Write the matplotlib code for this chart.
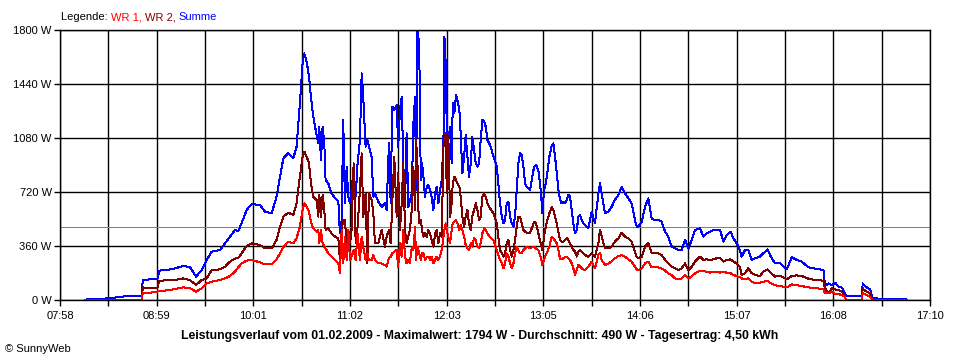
import matplotlib
matplotlib.use('Agg')
import matplotlib.pyplot as plt
import numpy as np

plt.rcParams['font.family'] = ['Liberation Sans', 'DejaVu Sans']

# sample times in minutes since midnight, power in W
minutes = [
    # 08:14 - 09:46
    493.9, 494.9, 504.4, 509.7, 516.1, 526.6, 529.8, 530.5, 535.1, 539.8,
    541.0, 545.7, 551.0, 556.3, 560.5, 564.3, 567.9, 571.1, 574.2, 579.5,
    582.7, 585.9,
    # 09:49 - 11:40
    589.0, 591.1, 593.2, 596.4, 599.6, 604.9, 608.0, 612.3, 615.4, 617.6,
    619.7, 622.8, 626.0, 628.1, 630.2, 631.9, 633.0, 634.5, 636.0, 637.2,
    638.7, 640.8, 641.9, 642.5, 643.6, 644.6, 645.7, 646.5, 648.2, 650.3,
    652.5, 654.6, 655.6, 656.7, 657.7, 658.8, 659.9, 660.9, 662.0, 663.0,
    664.3, 665.6, 666.8, 668.3, 669.4, 670.4, 671.9, 673.0, 674.0, 675.7,
    676.8, 677.8, 679.9, 682.1, 684.2, 685.2, 686.7, 687.8, 688.8, 690.1,
    691.6, 692.6, 693.7, 694.8, 695.8, 696.9, 697.9, 699.0, 700.0,
    # 11:41 - 13:31
    701.2, 702.2, 703.3, 703.9, 704.8, 705.4, 706.0, 706.9, 707.7, 708.6,
    709.6, 710.7, 711.7, 712.8, 713.8, 714.9, 716.0, 717.0, 718.1, 719.1,
    720.2, 721.3, 721.9, 722.7, 723.4, 724.4, 725.5, 726.5, 727.2, 728.2,
    729.3, 730.1, 731.4, 732.2, 733.3, 734.4, 735.4, 736.5, 737.5, 738.6,
    739.6, 740.7, 741.8, 742.8, 743.9, 744.9, 746.0, 747.1, 748.1, 749.2,
    750.9, 753.0, 755.1, 756.1, 757.2, 758.3, 759.3, 760.4, 761.4, 762.5,
    763.6, 764.6, 765.7, 766.7, 767.8, 768.8, 769.9, 771.0, 772.0, 773.1,
    774.1, 776.2, 777.3, 778.8, 780.0, 781.5, 783.0, 784.1, 785.1, 786.2,
    787.2, 788.5, 790.0, 791.0, 792.1, 793.2, 794.2, 795.3, 796.3, 797.4,
    798.4, 799.5, 800.6, 801.6, 802.7, 803.7, 804.8, 805.9, 806.9, 808.0,
    809.0, 810.1, 811.1,
    # 13:33 - 15:22
    813.2, 815.3, 817.4, 819.6, 820.6, 821.7, 823.8, 825.9, 828.0, 830.1,
    832.3, 834.4, 836.5, 838.6, 840.7, 842.8, 843.9, 845.0, 847.1, 849.2,
    851.3, 853.4, 855.5, 857.6, 859.7, 861.9, 864.0, 866.1, 868.2, 870.3,
    872.4, 874.6, 876.7, 878.8, 880.9, 884.1, 886.2, 888.3, 890.4, 892.5,
    894.6, 896.8, 898.9, 901.0, 903.5, 905.2, 907.3, 909.4, 910.5, 912.6,
    914.7, 916.9, 919.0, 922.1,
    # 15:24 - 16:55
    924.3, 926.9, 929.0, 931.7, 934.9, 939.1, 942.3, 945.5, 948.6, 952.9,
    957.1, 962.4, 962.8, 964.1, 965.6, 967.7, 969.8, 971.9, 974.0, 976.1,
    976.6, 977.0, 981.4, 986.7, 987.3, 988.2, 989.9, 992.0, 992.8, 993.3,
    1000.5, 1008.9, 1014.6, 1015.3,
]

summe = [
    0, 4, 9, 11, 22, 29, 29, 133, 138, 140,
    196, 200, 211, 227, 218, 156, 200, 267, 322, 333,
    378, 422,
    467, 460, 511, 600, 640, 633, 589, 578, 689, 822,
    944, 978, 944, 1022, 1311, 1578, 1644, 1589, 1489, 1356,
    1222, 1100, 1044, 1156, 933, 1156, 1044, 800, 778, 711,
    678, 656, 444, 533, 1200, 644, 889, 689, 644, 733,
    867, 689, 911, 1067, 1511, 1356, 1022, 1067, 1022, 956,
    689, 711, 656, 622, 644, 600, 1044, 644, 1289, 1267,
    1300, 1022, 1267, 1356, 911, 622, 1111, 622, 656,
    711, 1178, 1356, 733, 1794, 1756, 1622, 800, 911, 822,
    689, 756, 767, 733, 689, 600, 711, 756, 644, 733,
    800, 1067, 1756, 1578, 1133, 1067, 1156, 911, 1311, 1244,
    1367, 1333, 1267, 1111, 844, 956, 1100, 956, 822, 911,
    1089, 1000, 911, 889, 911, 1067, 1200, 1189, 1156, 1067,
    1033, 956, 889, 778, 644, 556, 511, 533, 644, 656,
    556, 511, 489, 556, 733, 911, 978, 967, 889, 778,
    756, 733, 800, 889, 900, 867, 733, 578, 733, 778,
    844, 956, 1033, 1044, 956, 844, 733, 667, 644, 656,
    644, 667, 700, 689, 600, 511, 444, 467, 556, 567,
    533, 511, 500,
    478, 589, 511, 711, 778, 711, 578, 589, 622, 667,
    700, 756, 711, 678, 644, 533, 489, 489, 522, 622,
    678, 544, 533, 533, 522, 456, 422, 356, 344, 333,
    333, 400, 344, 400, 467, 478, 422, 444, 456, 467,
    467, 467, 389, 433, 456, 411, 378, 333, 289, 333,
    333, 267, 278, 289,
    311, 338, 289, 244, 244, 204, 284, 267, 256, 218,
    209, 200, 133, 100, 111, 100, 116, 89, 84, 44,
    27, 27, 27, 27, 111, 100, 84, 71, 44, 11,
    9, 9, 4, 0,
]

wr2 = [
    0, 0, 0, 0, 0, 0, 0, 84, 80, 78,
    129, 131, 133, 144, 133, 100, 133, 144, 200, 204,
    222, 256,
    276, 280, 311, 360, 378, 367, 344, 344, 400, 489,
    556, 582, 567, 644, 822, 956, 989, 956, 911, 778,
    689, 667, 556, 700, 556, 700, 600, 467, 478, 444,
    422, 411, 267, 467, 533, 533, 356, 467, 378, 467,
    911, 378, 489, 733, 978, 556, 711, 244, 711, 667,
    578, 378, 378, 467, 356, 422, 467, 378, 644, 956,
    556, 844, 467, 644, 911, 467, 378, 422, 467,
    600, 889, 600, 1067, 911, 600, 511, 533, 467, 422,
    444, 422, 467, 444, 400, 356, 444, 467, 378, 444,
    422, 1022, 1067, 1111, 711, 1089, 556, 644, 778, 822,
    800, 778, 756, 689, 556, 489, 556, 600, 511, 467,
    556, 600, 644, 600, 533, 556, 689, 711, 689, 644,
    611, 578, 511, 422, 333, 311, 289, 311, 378, 400,
    333, 289, 333, 400, 489, 556, 556, 511, 467, 456,
    449, 444, 478, 522, 511, 444, 378, 333, 422, 489,
    533, 578, 622, 600, 556, 511, 456, 400, 389, 389,
    400, 411, 400, 378, 356, 333, 322, 289, 322, 333,
    322, 311, 300,
    289, 311, 289, 378, 467, 422, 344, 344, 356, 389,
    411, 449, 422, 411, 389, 322, 289, 278, 289, 356,
    378, 311, 311, 311, 300, 267, 244, 222, 211, 200,
    211, 244, 200, 222, 256, 289, 267, 271, 267, 271,
    278, 278, 256, 267, 271, 256, 244, 218, 167, 178,
    211, 178, 167, 160,
    189, 204, 182, 156, 160, 138, 160, 164, 160, 142,
    133, 129, 100, 67, 44, 78, 71, 67, 56, 22,
    0, 0, 0, 0, 78, 67, 56, 44, 22, 0,
    0, 0, 0, 0,
]

wr1 = [
    0, 0, 0, 0, 0, 0, 0, 44, 48, 56,
    60, 64, 73, 84, 78, 56, 78, 111, 122, 133,
    144, 160,
    189, 218, 244, 262, 267, 251, 238, 238, 271, 311,
    351, 389, 378, 411, 489, 600, 644, 622, 589, 522,
    478, 456, 467, 378, 467, 378, 356, 344, 311, 289,
    267, 244, 178, 467, 244, 422, 267, 467, 267, 289,
    333, 267, 444, 267, 422, 356, 267, 311, 267, 267,
    300, 267, 244, 244, 233, 222, 278, 289, 311, 322,
    333, 222, 378, 289, 467, 289, 244, 267, 244,
    356, 333, 489, 267, 356, 333, 311, 267, 311, 311,
    267, 289, 289, 267, 289, 244, 267, 289, 267, 289,
    333, 422, 467, 511, 467, 422, 378, 467, 511, 522,
    533, 511, 467, 500, 467, 422, 367, 344, 333, 378,
    356, 411, 400, 356, 344, 378, 444, 478, 467, 444,
    418, 400, 333, 300, 267, 244, 211, 244, 311, 289,
    244, 211, 244, 311, 356, 333, 311, 316, 333, 344,
    356, 344, 351, 356, 344, 333, 289, 233, 267, 300,
    322, 356, 422, 411, 396, 378, 333, 273, 273, 278,
    284, 289, 278, 267, 244, 211, 167, 200, 233, 222,
    211, 204, 200,
    222, 256, 211, 300, 316, 267, 233, 244, 256, 278,
    293, 300, 289, 271, 256, 222, 204, 200, 211, 244,
    256, 218, 218, 218, 211, 196, 178, 167, 144, 138,
    144, 167, 144, 156, 178, 196, 193, 189, 182, 189,
    189, 182, 189, 182, 178, 167, 160, 151, 144, 138,
    144, 122, 111, 116,
    122, 129, 111, 98, 93, 84, 104, 98, 93, 84,
    80, 71, 56, 44, 44, 56, 40, 40, 33, 22,
    0, 0, 0, 0, 44, 40, 33, 22, 11, 0,
    0, 0, 0, 0,
]

durchschnitt = 490
t_start, t_end = 478, 1030
time_labels = ['07:58', '08:59', '10:01', '11:02', '12:03',
               '13:05', '14:06', '15:07', '16:08', '17:10']
y_ticks = [0, 360, 720, 1080, 1440, 1800]

fig = plt.figure(figsize=(9.6, 3.6), dpi=100)
ax = fig.add_axes([60/960, 60/360, 870/960, 270/360])

ax.axhline(durchschnitt, color='#808080', lw=0.72, zorder=1.5, antialiased=False)
ax.plot(minutes, summe, color='#0000ff', lw=0.72, zorder=2, antialiased=False)
ax.plot(minutes, wr2, color='#800000', lw=0.72, zorder=2.1, antialiased=False)
ax.plot(minutes, wr1, color='#ff0000', lw=0.72, zorder=2.2, antialiased=False)

xt = np.linspace(t_start, t_end, 19)
ax.set_xticks(xt)
labels = []
for i in range(19):
    labels.append(time_labels[i // 2] if i % 2 == 0 else '')
ax.set_xticklabels(labels)
ax.set_yticks(y_ticks)
ax.set_yticklabels([f'{v} W' for v in y_ticks])
ax.set_xlim(t_start, t_end)
ax.set_ylim(0, 1800)

ax.grid(True, color='black', lw=1.0)
ax.set_axisbelow(True)
for s in ax.spines.values():
    s.set_color('black')
    s.set_linewidth(1.0)
ax.tick_params(axis='x', length=4, width=1.0, pad=4, labelsize=8)
ax.tick_params(axis='y', length=4, width=1.0, pad=2, labelsize=8)

fig.text(0.5, 1 - 336/360,
         'Leistungsverlauf vom 01.02.2009 - Maximalwert: 1794 W - Durchschnitt: 490 W - Tagesertrag: 4,50 kWh',
         ha='center', va='center', fontsize=8.8, fontweight='bold')
fig.text(5/960, 1 - 349/360, '\u00a9 SunnyWeb', ha='left', va='center', fontsize=8)

# legend line at top, built from coloured pieces
fig.canvas.draw()
r = fig.canvas.get_renderer()
x = 61/960
for s, c in [('Legende: ', 'black'), ('WR 1, ', '#ff0000'),
             ('WR 2, ', '#800000'), ('Summe', '#0000ff')]:
    t = fig.text(x, 1 - 17/360, s, color=c, fontsize=8, ha='left', va='center')
    x += t.get_window_extent(r).width / fig.bbox.width

fig.savefig('out.png', dpi=100)
